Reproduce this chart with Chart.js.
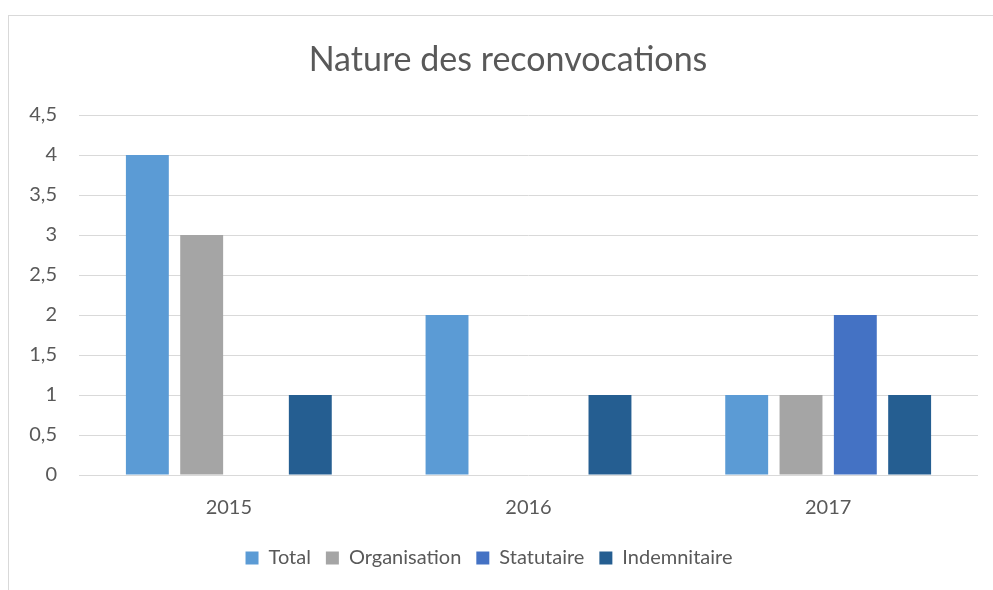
<!DOCTYPE html>
<html>
<head>
<meta charset="utf-8">
<script src="https://cdn.jsdelivr.net/npm/chart.js@4/dist/chart.umd.min.js"></script>
<style>
  html, body { margin: 0; padding: 0; background: #fff; }
  #wrap { width: 993px; height: 590px; }
</style>
</head>
<body>
<div id="wrap"><canvas id="chart" width="993" height="590"></canvas></div>
<script>
const years = ['2015', '2016', '2017'];
const total = [4, 2, 1];
const organisation = [3, 0, 1];
const statutaire = [0, 0, 2];
const indemnitaire = [1, 1, 1];

const titleText = 'Nature des reconvocations';
const textColor = '#595959';
const fontFamily = 'Lato, "Open Sans", sans-serif';

// light gray frame + title centred on the frame (not on the canvas)
const framePlugin = {
  id: 'frame',
  beforeDraw(chart) {
    const ctx = chart.ctx;
    ctx.save();
    ctx.strokeStyle = '#d9d9d9';
    ctx.lineWidth = 1;
    ctx.strokeRect(8.5, 15.5, 1100, 700);
    ctx.fillStyle = textColor;
    ctx.font = '34px ' + fontFamily;
    ctx.textAlign = 'center';
    ctx.textBaseline = 'middle';
    ctx.fillText(titleText, 508, 60);
    ctx.restore();
  }
};

const ctx = document.getElementById('chart').getContext('2d');
const chart = new Chart(ctx, {
  type: 'bar',
  data: {
    labels: years,
    datasets: [
      { label: 'Total', data: total, backgroundColor: '#5B9BD5' },
      { label: 'Organisation', data: organisation, backgroundColor: '#A5A5A5' },
      { label: 'Statutaire', data: statutaire, backgroundColor: '#4472C4' },
      { label: 'Indemnitaire', data: indemnitaire, backgroundColor: '#255E91' }
    ]
  },
  options: {
    responsive: false,
    animation: false,
    devicePixelRatio: 1,
    layout: { padding: { top: 115, right: 15, left: 0, bottom: 12 } },
    datasets: {
      bar: { categoryPercentage: 0.725, barPercentage: 0.79 }
    },
    plugins: {
      title: { display: false },
      legend: {
        position: 'bottom',
        labels: {
          color: textColor,
          font: { family: fontFamily, size: 20 },
          boxWidth: 13,
          boxHeight: 13,
          padding: 15
        }
      },
      tooltip: { enabled: false }
    },
    scales: {
      x: {
        grid: { display: false, drawTicks: false },
        border: { display: false },
        ticks: { color: textColor, font: { family: fontFamily, size: 20 }, padding: 21 },
        afterFit(scale) { scale.height = 58; }
      },
      y: {
        min: 0,
        max: 4.5,
        grid: { color: '#d9d9d9', drawTicks: false },
        border: { display: false },
        ticks: {
          stepSize: 0.5,
          color: textColor,
          font: { family: fontFamily, size: 20 },
          padding: 22,
          callback: v => String(v).replace('.', ',')
        },
        afterFit(scale) { scale.width = 79; }
      }
    }
  },
  plugins: [framePlugin]
});
</script>
</body>
</html>
